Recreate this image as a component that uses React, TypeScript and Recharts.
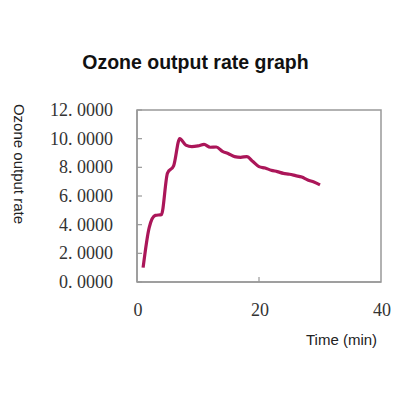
import { LineChart, Line, XAxis, YAxis, ReferenceArea } from "recharts";

// minutes since start
const minutes = [
  1, 2, 3, 4, 5, 6, 7, 8, 9, 10, 11, 12, 13, 14, 15, 16, 17, 18, 19, 20, 21, 22, 23, 24, 25, 26, 27, 28, 29, 30,
];
// ozone output rate
const rate = [
  1.0, 3.8, 4.65, 4.7, 7.6, 8.1, 10.0, 9.55, 9.45, 9.5, 9.6, 9.4, 9.42, 9.12, 8.95, 8.75, 8.7, 8.75, 8.4, 8.05,
  7.95, 7.8, 7.7, 7.58, 7.52, 7.42, 7.32, 7.12, 6.98, 6.78,
];
const xTicks = [0, 20, 40];
const yTicks = [0, 2, 4, 6, 8, 10, 12];

const data = minutes.map((m, i) => ({ t: m, rate: rate[i] }));

const tickFont = "'Liberation Serif', 'DejaVu Serif', serif";
const sans = "'Liberation Sans', Arial, sans-serif";

function YTick(props: any) {
  const { x, y, payload } = props;
  return (
    <g>
      <line x1={x} x2={x + 5} y1={y} y2={y} stroke="#999" strokeWidth={1.2} />
      <text x={x - 24} y={y} dy={6} textAnchor="end" fontSize={18} fontFamily={tickFont} fill="#333">
        {payload.value.toFixed(4).replace(".", ". ")}
      </text>
    </g>
  );
}

function XTick(props: any) {
  const { x, y, payload } = props;
  return (
    <g>
      {payload.value !== 0 && payload.value !== 40 && (
        <line x1={x} x2={x} y1={y} y2={y - 5} stroke="#999" strokeWidth={1.2} />
      )}
      <text x={x + 1} y={y + 34} textAnchor="middle" fontSize={18} fontFamily={tickFont} fill="#333">
        {payload.value}
      </text>
    </g>
  );
}

export default function App() {
  return (
    <div style={{ position: "absolute", left: 0, top: 0, width: 401, height: 397, background: "#fff" }}>
      <div
        style={{
          position: "absolute",
          left: 0,
          width: 391,
          top: 51,
          textAlign: "center",
          fontFamily: sans,
          fontWeight: "bold",
          fontSize: 19.5,
          color: "#111",
        }}
      >
        Ozone output rate graph
      </div>
      <div
        style={{
          position: "absolute",
          left: 19,
          top: 164,
          transform: "translate(-50%, -50%) rotate(90deg)",
          whiteSpace: "nowrap",
          fontFamily: sans,
          fontSize: 15,
          color: "#222",
        }}
      >
        Ozone output rate
      </div>
      <div
        style={{
          position: "absolute",
          left: 306,
          top: 331,
          whiteSpace: "nowrap",
          fontFamily: sans,
          fontSize: 15,
          color: "#222",
        }}
      >
        Time (min)
      </div>
      <LineChart
        width={401}
        height={397}
        data={data}
        margin={{ top: 110, right: 20, left: 0, bottom: 0 }}
        style={{ position: "absolute", left: 0, top: 0 }}
      >
        <XAxis
          dataKey="t"
          type="number"
          domain={[0, 40]}
          ticks={xTicks}
          height={115}
          tickSize={0}
          tickMargin={0}
          axisLine={{ stroke: "#999", strokeWidth: 1.5 }}
          tickLine={false}
          tick={<XTick />}
        />
        <YAxis
          type="number"
          domain={[0, 12]}
          ticks={yTicks}
          width={137}
          tickSize={0}
          tickMargin={0}
          axisLine={{ stroke: "#999", strokeWidth: 1.5 }}
          tickLine={false}
          tick={<YTick />}
        />
        <ReferenceArea x1={0} x2={40} y1={0} y2={12} fill="none" stroke="#999" strokeWidth={1.5} />
        <Line
          type="monotone"
          dataKey="rate"
          stroke="#ab1659"
          strokeWidth={3.2}
          dot={false}
          isAnimationActive={false}
        />
      </LineChart>
    </div>
  );
}
